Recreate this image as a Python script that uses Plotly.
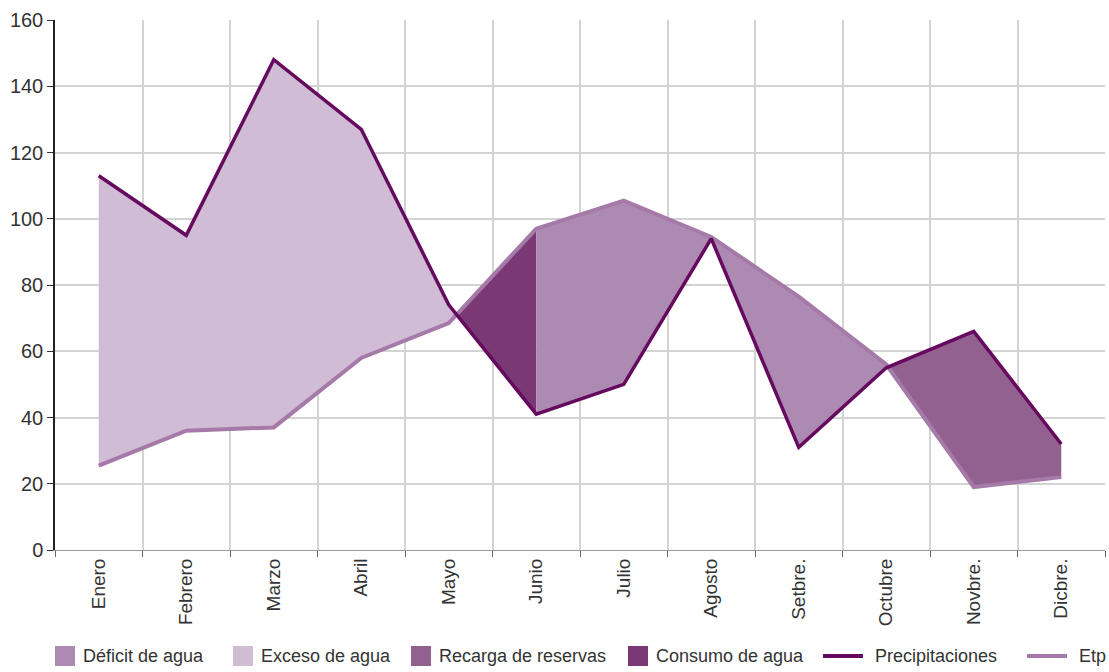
import numpy as np
import plotly.graph_objects as go

meses = ["Enero", "Febrero", "Marzo", "Abril", "Mayo", "Junio",
         "Julio", "Agosto", "Setbre.", "Octubre", "Novbre.", "Dicbre."]
precipitaciones = [113, 95, 148, 127, 74, 41, 50, 94, 31, 55, 66, 32]
etp = [25.5, 36, 37, 58, 68.5, 97, 105.5, 94.5, 76.5, 56, 19, 22]

# tramos del balance: (nombre, mes inicial, mes final); los cortes se calculan
tramos = [
    ("Exceso de agua", 0, "cruce4"),
    ("Consumo de agua", "cruce4", 5),
    ("Déficit de agua", 5, "cruce9"),
    ("Recarga de reservas", "cruce9", 11),
]
colores = {
    "Déficit de agua": "#ad8ab1",
    "Exceso de agua": "#d0bcd4",
    "Recarga de reservas": "#936190",
    "Consumo de agua": "#7a3875",
    "Precipitaciones": "#660a60",
    "Etp": "#a57aa8",
}

W, H = 1109, 672
M_L, M_R, M_T, M_B = 55, 4, 20, 122

x = np.arange(len(meses), dtype=float)
P = np.array(precipitaciones, dtype=float)
E = np.array(etp, dtype=float)


def cruce(i):
    # punto donde se cortan las dos curvas entre el mes i y el i+1
    d0 = P[i] - E[i]
    d1 = P[i + 1] - E[i + 1]
    return i + d0 / (d0 - d1)


def limite(v):
    if isinstance(v, str):
        return cruce(int(v.replace("cruce", "")))
    return float(v)


def poligono(a, b):
    xs = np.array([a] + [k for k in x if a < k < b] + [b])
    yp = np.interp(xs, x, P)
    ye = np.interp(xs, x, E)
    return np.concatenate([xs, xs[::-1], xs[:1]]), np.concatenate([yp, ye[::-1], yp[:1]])


fig = go.Figure()

for nombre, a, b in tramos:
    px, py = poligono(limite(a), limite(b))
    fig.add_trace(go.Scatter(
        x=px, y=py, mode="lines", fill="toself",
        fillcolor=colores[nombre], line=dict(width=0, color=colores[nombre]),
        name=nombre, showlegend=False, hoverinfo="skip",
    ))

fig.add_trace(go.Scatter(x=x, y=E, mode="lines", name="Etp", showlegend=False,
                         line=dict(color=colores["Etp"], width=4)))
fig.add_trace(go.Scatter(x=x, y=P, mode="lines", name="Precipitaciones", showlegend=False,
                         line=dict(color=colores["Precipitaciones"], width=3.5)))

# leyenda dibujada a mano para copiar el espaciado del original (px)
leyenda = [("Déficit de agua", "caja", 55), ("Exceso de agua", "caja", 233),
           ("Recarga de reservas", "caja", 411), ("Consumo de agua", "caja", 628),
           ("Precipitaciones", "linea", 823), ("Etp", "linea", 1027)]
pw, ph = W - M_L - M_R, H - M_T - M_B


def fx(p):
    return (p - M_L) / pw


def fy(p):
    return (H - M_B - p) / ph


y_ley = 656
for nombre, tipo, x0 in leyenda:
    if tipo == "caja":
        fig.add_shape(type="rect", xref="paper", yref="paper",
                      x0=fx(x0), x1=fx(x0 + 20), y0=fy(y_ley + 10), y1=fy(y_ley - 10),
                      fillcolor=colores[nombre], line=dict(width=0))
        xt = x0 + 26
    else:
        fig.add_shape(type="line", xref="paper", yref="paper",
                      x0=fx(x0), x1=fx(x0 + 40), y0=fy(y_ley), y1=fy(y_ley),
                      line=dict(color=colores[nombre], width=4))
        xt = x0 + 50
    fig.add_annotation(text=nombre, xref="paper", yref="paper", x=fx(xt), y=fy(y_ley),
                       xanchor="left", yanchor="middle", showarrow=False,
                       font=dict(size=18, color="#333333"))

fig.update_layout(
    width=W, height=H,
    margin=dict(l=M_L, r=M_R, t=M_T, b=M_B),
    plot_bgcolor="white", paper_bgcolor="white",
    font=dict(family="Liberation Sans, Arial, sans-serif", size=18, color="#333333"),
    showlegend=False,
    xaxis=dict(
        range=[-0.5, len(meses) - 0.5], automargin=False,
        tickvals=x, ticktext=meses, tickangle=-90, tickfont=dict(size=19),
        showgrid=False, ticks="", zeroline=False,
        showline=True, linecolor="#999999", linewidth=1,
        minor=dict(tick0=-0.5, dtick=1, showgrid=True, gridcolor="#d3d3d3",
                   gridwidth=1.5, ticks="outside", ticklen=6, tickcolor="#666666"),
    ),
    yaxis=dict(
        range=[0, 160], dtick=20, automargin=False, tickfont=dict(size=20),
        showgrid=True, gridcolor="#d3d3d3", gridwidth=1.5,
        ticks="outside", ticklen=6, tickcolor="#333333",
        showline=True, linecolor="#222222", linewidth=1.5, zeroline=False,
    ),
)

# sin el margen por defecto del body la figura ocupa la ventana entera
fig.write_html("out.html", config={"displayModeBar": False},
               post_script="document.body.style.margin='0';document.body.style.overflow='hidden';")
